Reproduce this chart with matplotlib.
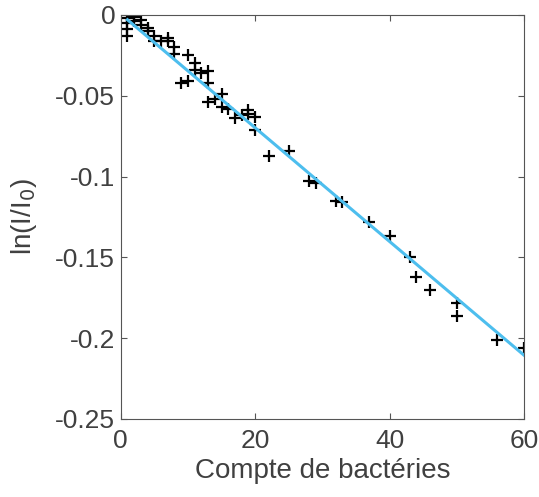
import matplotlib.pyplot as plt

plt.rcParams['font.family'] = ['Liberation Sans', 'DejaVu Sans']

# bacteria count vs ln(I/I0)
counts = [1, 1, 1, 1, 2, 2, 3, 3, 4, 4, 5, 5, 6, 7, 7, 8, 8, 9, 10, 10,
          11, 11, 12, 13, 13, 13, 14, 15, 15, 16, 17, 18, 19, 19, 20, 20,
          22, 25, 28, 29, 32, 33, 37, 40, 43, 44, 46, 50, 50, 56, 60]
log_ratio = [-0.002, -0.005, -0.009, -0.013, -0.001, -0.004, -0.003, -0.006,
             -0.008, -0.010, -0.013, -0.016, -0.016, -0.014, -0.016, -0.020,
             -0.024, -0.042, -0.041, -0.025, -0.030, -0.034, -0.036, -0.035,
             -0.042, -0.054, -0.052, -0.049, -0.057, -0.058, -0.064, -0.062,
             -0.059, -0.061, -0.063, -0.071, -0.087, -0.084, -0.103, -0.104,
             -0.115, -0.116, -0.128, -0.137, -0.150, -0.162, -0.170, -0.178,
             -0.186, -0.201, -0.206]

# linear fit drawn across the data range
fit_x = [1, 60]
fit_y = [-0.0030, -0.2105]

fig = plt.figure(figsize=(5.39, 4.97), dpi=100)
ax = fig.add_axes([0.224, 0.157, 0.748, 0.813])

ax.plot(counts, log_ratio, '+', color='black', markersize=8, markeredgewidth=1.6)
ax.plot(fit_x, fit_y, color='#4DBEEE', linewidth=2.2)

ax.set_xlim(0, 60)
ax.set_ylim(-0.25, 0)
ax.set_xticks([0, 20, 40, 60])
ax.set_yticks([-0.25, -0.2, -0.15, -0.1, -0.05, 0])
ax.set_yticklabels(['-0.25', '-0.2', '-0.15', '-0.1', '-0.05', '0'])

grey = '#555555'
for s in ax.spines.values():
    s.set_color(grey)
    s.set_linewidth(0.8)
ax.tick_params(direction='in', top=True, right=True, length=4, width=0.8,
               colors=grey, labelcolor='#404040', labelsize=19)
ax.tick_params(axis='x', pad=7)
ax.tick_params(axis='y', pad=4)

ax.set_xlabel('Compte de bactéries', fontsize=20, color='#404040', labelpad=4)
ax.set_ylabel('ln(I/I$_0$)', fontsize=20, color='#404040', labelpad=12)

fig.savefig('out.png', dpi=100)
